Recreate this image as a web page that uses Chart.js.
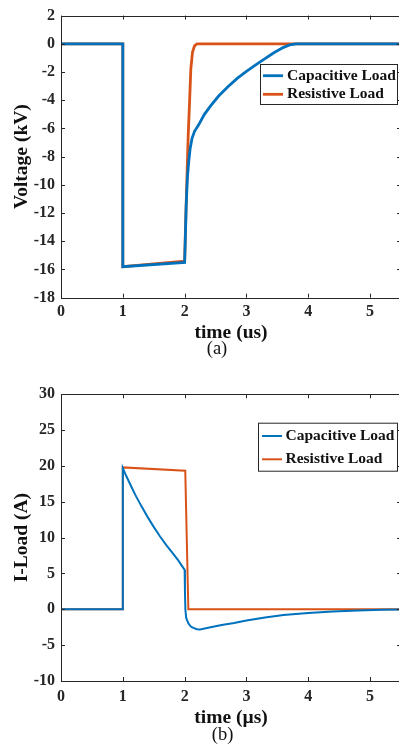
<!DOCTYPE html>
<html>
<head>
<meta charset="utf-8">
<script src="https://cdn.jsdelivr.net/npm/chart.js"></script>
<style>
  body { margin:0; background:#fff; overflow:hidden; }
  .panel { position:absolute; left:0; }
</style>
</head>
<body>
<div class="panel" style="top:0"><canvas id="voltChart" width="401" height="365"></canvas></div>
<div class="panel" style="top:365px"><canvas id="curChart" width="401" height="386"></canvas></div>
<script>
// (a) load voltage in kV, time in us
var voltCapT = [0, 1, 1, 2.0, 2.01, 2.025, 2.045, 2.065, 2.09, 2.12, 2.16, 2.22, 2.32, 2.42, 2.55, 2.7, 2.85, 3.0, 3.15, 3.3, 3.45, 3.6, 3.7, 3.8, 5.5];
var voltCapV = [0, 0, -15.8, -15.5, -14, -11.5, -9.5, -8.4, -7.4, -6.7, -6.2, -5.8, -5.0, -4.4, -3.7, -3.05, -2.45, -1.95, -1.5, -1.05, -0.62, -0.25, -0.08, 0, 0];
var voltResT = [0, 1, 1, 2.0, 2.012, 2.026, 2.042, 2.058, 2.08, 2.1, 2.127, 2.16, 2.2, 5.5];
var voltResV = [0, 0, -15.8, -15.4, -13.4, -11.2, -8.8, -6.45, -4.1, -1.8, -0.6, -0.15, 0, 0];

// (b) load current in A
var curCapT = [0, 1, 1, 1.05, 1.1, 1.15, 1.2, 1.3, 1.4, 1.5, 1.6, 1.7, 1.8, 1.9, 2.0, 2.005, 2.012, 2.025, 2.06, 2.1, 2.14, 2.2, 2.25, 2.4, 2.6, 2.8, 3.0, 3.3, 3.6, 4.0, 4.4, 4.8, 5.2, 5.5];
var curCapV = [0, 0, 19.7, 18.7, 17.8, 16.9, 16.0, 14.4, 12.9, 11.5, 10.2, 9.0, 7.9, 6.8, 5.5, 2.5, 0, -1.2, -1.95, -2.4, -2.6, -2.78, -2.8, -2.55, -2.2, -1.9, -1.55, -1.15, -0.8, -0.5, -0.3, -0.15, -0.06, -0.03];
var curResT = [0, 1, 1, 2.01, 2.06, 5.5];
var curResV = [0, 0, 19.8, 19.35, 0, 0];

var seriesNames = ['Capacitive Load', 'Resistive Load'];
var xTicks = [0, 1, 2, 3, 4, 5];
var voltTicks = [2, 0, -2, -4, -6, -8, -10, -12, -14, -16, -18];
var curTicks = [30, 25, 20, 15, 10, 5, 0, -5, -10];

var BLUE = 'rgb(0,114,189)';
var ORANGE = 'rgb(217,83,25)';
var INK = '#262626';

Chart.defaults.font.family = "'Liberation Serif', 'Times New Roman', serif";

function pts(t, v) {
  return t.map(function (x, i) { return { x: x, y: v[i] }; });
}

// matlab style box, inward ticks, legend and sub caption
var decor = {
  id: 'decor',
  afterDraw: function (chart) {
    var o = chart.options.plugins.decor;
    var ctx = chart.ctx, a = chart.chartArea;
    var xs = chart.scales.x, ys = chart.scales.y;
    ctx.save();
    ctx.strokeStyle = INK;
    ctx.lineWidth = 1;
    ctx.beginPath();
    ctx.rect(Math.round(a.left) + 0.5, Math.round(a.top) + 0.5, Math.round(a.right - a.left), Math.round(a.bottom - a.top));
    xs.ticks.forEach(function (t) {
      var px = Math.round(xs.getPixelForValue(t.value)) + 0.5;
      ctx.moveTo(px, a.bottom); ctx.lineTo(px, a.bottom - 4);
      ctx.moveTo(px, a.top); ctx.lineTo(px, a.top + 4);
    });
    ys.ticks.forEach(function (t) {
      var py = Math.round(ys.getPixelForValue(t.value)) + 0.5;
      ctx.moveTo(a.left, py); ctx.lineTo(a.left + 4, py);
      ctx.moveTo(a.right, py); ctx.lineTo(a.right - 4, py);
    });
    ctx.stroke();

    // legend
    var b = o.box;
    ctx.fillStyle = '#fff';
    ctx.fillRect(b.x, b.y, b.w, b.h);
    ctx.strokeStyle = INK;
    ctx.strokeRect(b.x + 0.5, b.y + 0.5, b.w - 1, b.h - 1);
    ctx.font = 'bold ' + o.legendSize + "px 'Liberation Serif', serif";
    ctx.textBaseline = 'middle';
    ctx.textAlign = 'left';
    chart.data.datasets.forEach(function (ds, i) {
      var y = o.rows[i];
      ctx.strokeStyle = ds.borderColor;
      ctx.lineWidth = ds.borderWidth;
      ctx.beginPath();
      ctx.moveTo(o.lineX[0], y); ctx.lineTo(o.lineX[1], y);
      ctx.stroke();
      ctx.fillStyle = '#111';
      ctx.fillText(ds.label, o.textX, y);
    });

    // (a) / (b)
    ctx.font = "18.5px 'Liberation Serif', serif";
    ctx.textAlign = 'center';
    ctx.fillStyle = '#111';
    ctx.fillText(o.caption, o.capX, o.capY);
    ctx.restore();
  }
};

function axisOpts(ticksArr, min, max, title, isX, sizeFix, pad, titlePad) {
  return {
    type: 'linear', min: min, max: max,
    afterFit: function (s) { if (isX) s.height = sizeFix; else s.width = sizeFix; },
    afterBuildTicks: function (s) { s.ticks = ticksArr.map(function (v) { return { value: v }; }); },
    grid: { display: false, drawTicks: false },
    border: { display: false },
    ticks: { padding: pad, color: INK, font: { size: 16, weight: 'bold' } },
    title: { display: true, text: title, color: '#111', font: { size: 19.5, weight: 'bold' }, padding: titlePad }
  };
}

function makeChart(id, capData, resData, lw, yTicks, yMin, yMax, yTitle, xTitle, lay, decorOpts) {
  return new Chart(document.getElementById(id), {
    type: 'line',
    data: {
      datasets: [
        { label: seriesNames[0], data: capData, borderColor: BLUE, borderWidth: lw, pointRadius: 0, tension: 0, fill: false },
        { label: seriesNames[1], data: resData, borderColor: ORANGE, borderWidth: lw, pointRadius: 0, tension: 0, fill: false }
      ]
    },
    options: {
      responsive: false,
      animation: false,
      layout: { padding: { top: lay.top, bottom: lay.bottom, left: 0, right: 0 } },
      plugins: { legend: { display: false }, tooltip: { enabled: false }, decor: decorOpts },
      scales: {
        x: axisOpts(xTicks, 0, 5.5, xTitle, true, lay.xHeight, lay.xPad, { top: 0, bottom: 0 }),
        y: axisOpts(yTicks, yMin, yMax, yTitle, false, 61, 6, { top: 10, bottom: 0 })
      }
    },
    plugins: [decor]
  });
}

makeChart('voltChart', pts(voltCapT, voltCapV), pts(voltResT, voltResV), 2.8,
  voltTicks, -18, 2, 'Voltage (kV)', 'time (us)',
  { top: 13.3, bottom: 20.3, xHeight: 47, xPad: 5 },
  { box: { x: 260, y: 64, w: 138, h: 41 }, lineX: [263, 283], textX: 287, rows: [75.7, 94.3], legendSize: 15.5,
    caption: '(a)', capX: 217, capY: 349 });

makeChart('curChart', pts(curCapT, curCapV), pts(curResT, curResV), 2,
  curTicks, -10, 30, 'I-Load (A)', 'time (\u00b5s)',
  { top: 29.3, bottom: 21.3, xHeight: 48.7, xPad: 6 },
  { box: { x: 258, y: 57.7, w: 140, h: 49 }, lineX: [262, 282], textX: 285.5, rows: [71, 94.3], legendSize: 15.5,
    caption: '(b)', capX: 222.5, capY: 370.5 });
</script>
</body>
</html>
